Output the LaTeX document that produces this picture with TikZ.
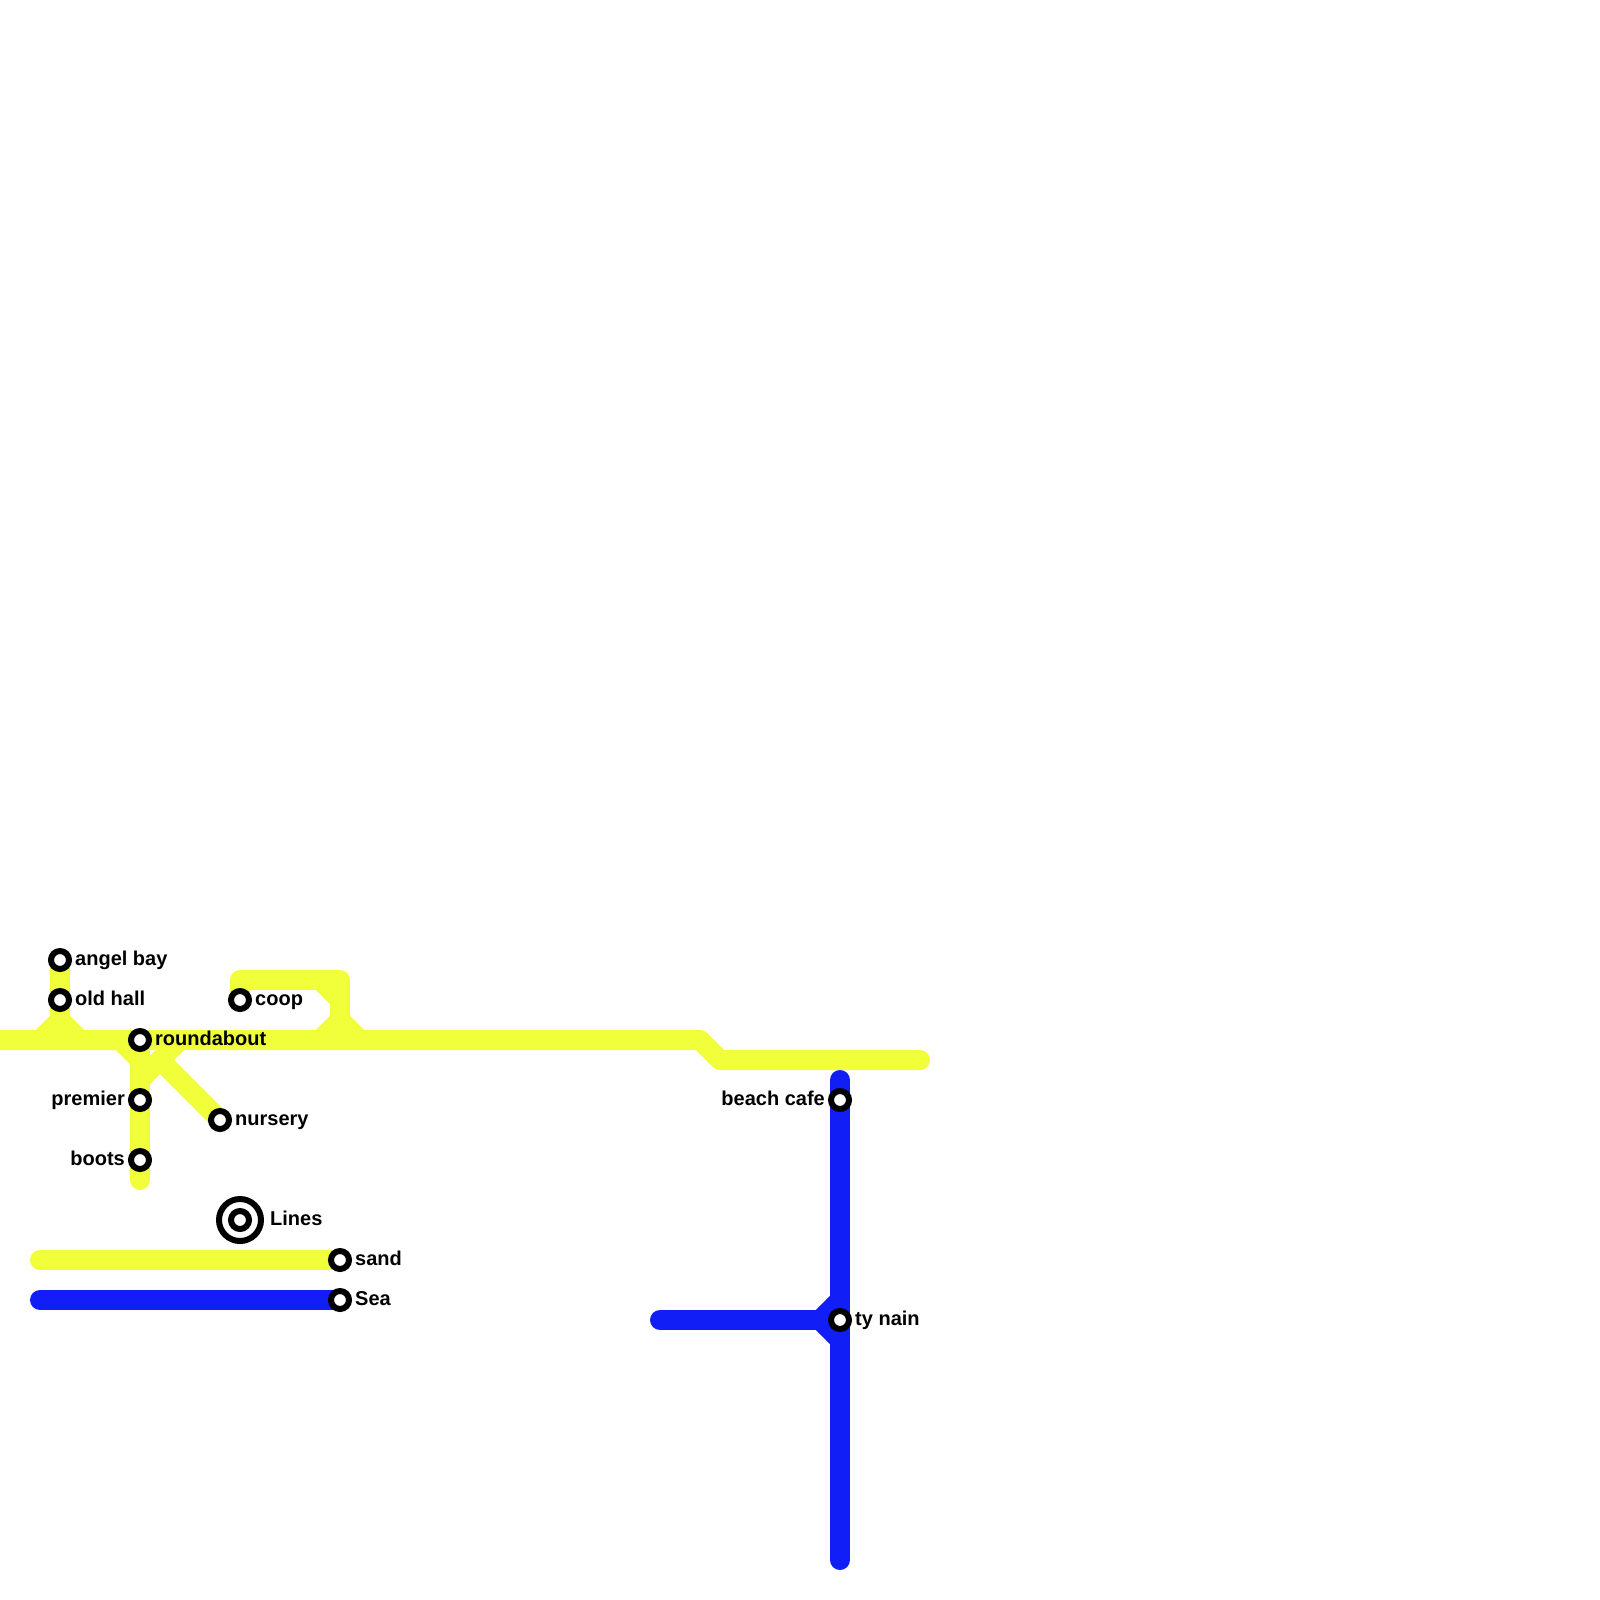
\documentclass[tikz,border=0pt]{standalone}
\usepackage{xcolor}
\usepackage{fontspec}
\setmainfont{Liberation Sans}
\usepackage{tikz}
\usetikzlibrary{positioning}

\definecolor{lineyellow}{HTML}{F1FF3A}
\definecolor{lineblue}{HTML}{111EF5}
\pgfdeclarelayer{lines}
\pgfsetlayers{lines,main}

\begin{document}
\begin{tikzpicture}[
x=1pt,
y=-1pt,
node distance=3pt,
yellowline/.style={draw=lineyellow,line width=20pt,line cap=round,line join=round},
blueline/.style={draw=lineblue,line width=20pt,line cap=round,line join=round},
station/.style={
draw=black,
fill=white,
circle,
line width=6pt,
inner sep=0pt,
minimum size=18pt
},
stationlabel/.style={
inner sep=0pt,
text height=14pt,
text depth=4pt,
font=\fontsize{20}{20}\selectfont\bfseries
}
]
\useasboundingbox (0,0) rectangle (1600,1600);

\coordinate (mainw) at (-12,1040);
\coordinate (maine) at (700,1040);
\coordinate (bendtop) at (720,1060);
\coordinate (yellowend) at (920,1060);
\coordinate (oldfork) at (60,1020);
\coordinate (oldl) at (40,1040);
\coordinate (oldr) at (80,1040);
\coordinate (coopup) at (240,980);
\coordinate (coopcorner) at (340,980);
\coordinate (coopa) at (320,980);
\coordinate (coopb) at (340,1000);
\coordinate (coopfork) at (340,1020);
\coordinate (coopl) at (320,1040);
\coordinate (coopr) at (360,1040);
\coordinate (roundl) at (120,1040);
\coordinate (roundr) at (180,1040);
\coordinate (roundm) at (140,1060);
\coordinate (nurseryfork) at (160,1060);
\coordinate (roundn) at (140,1080);
\coordinate (bootsend) at (140,1180);
\coordinate (bluetop) at (840,1080);
\coordinate (blueend) at (840,1560);
\coordinate (bluew) at (660,1320);
\coordinate (tyfork) at (820,1320);
\coordinate (tyup) at (840,1300);
\coordinate (tydown) at (840,1340);
\coordinate (sandw) at (40,1260);
\coordinate (seaw) at (40,1300);

\node[station] (angel) at (60,960) {};
\node[station] (oldhall) at (60,1000) {};
\node[station] (roundabout) at (140,1040) {};
\node[station] (premier) at (140,1100) {};
\node[station] (boots) at (140,1160) {};
\node[station] (nursery) at (220,1120) {};
\node[station] (coop) at (240,1000) {};
\node[station] (sand) at (340,1260) {};
\node[station] (sea) at (340,1300) {};
\node[station] (beach) at (840,1100) {};
\node[station] (tynain) at (840,1320) {};

% lines go under the stations
\begin{pgfonlayer}{lines}
\draw[yellowline] (mainw) -- (maine) -- (bendtop) -- (yellowend);
\draw[yellowline] (angel.center) -- (oldfork);
\draw[yellowline] (oldl) -- (oldfork) -- (oldr);
\draw[yellowline] (coop.center) -- (coopup) -- (coopcorner) -- (coopfork);
\draw[yellowline] (coopa) -- (coopb);
\draw[yellowline] (coopl) -- (coopfork) -- (coopr);
\draw[yellowline] (roundabout.center) -- (bootsend);
\draw[yellowline] (roundl) -- (roundm);
\draw[yellowline] (roundr) -- (nurseryfork) -- (roundn);
\draw[yellowline] (nurseryfork) -- (nursery.center);
\draw[yellowline] (sandw) -- (sand.center);
\draw[blueline] (bluetop) -- (blueend);
\draw[blueline] (bluew) -- (tynain.center);
\draw[blueline] (tyup) -- (tyfork) -- (tydown);
\draw[blueline] (seaw) -- (sea.center);
\end{pgfonlayer}

\node[stationlabel,right=of angel] (angellabel) {angel bay};
\node[stationlabel,right=of oldhall] (oldhalllabel) {old hall};
\node[stationlabel,right=of roundabout] (roundaboutlabel) {roundabout};
\node[stationlabel,left=of premier] (premierlabel) {premier};
\node[stationlabel,left=of boots] (bootslabel) {boots};
\node[stationlabel,right=of nursery] (nurserylabel) {nursery};
\node[stationlabel,right=of coop] (cooplabel) {coop};
\node[stationlabel,right=of sand] (sandlabel) {sand};
\node[stationlabel,right=of sea] (sealabel) {Sea};
\node[stationlabel,left=of beach] (beachlabel) {beach cafe};
\node[stationlabel,right=of tynain] (tynainlabel) {ty nain};

% legend mark
\node[station] (legend) at (240,1220) {};
\node[draw=black,circle,line width=6pt,inner sep=0pt,minimum size=42pt] (legendring) at (legend) {};
\node[stationlabel,right=6pt of legendring] (legendlabel) {Lines};

\end{tikzpicture}
\end{document}
